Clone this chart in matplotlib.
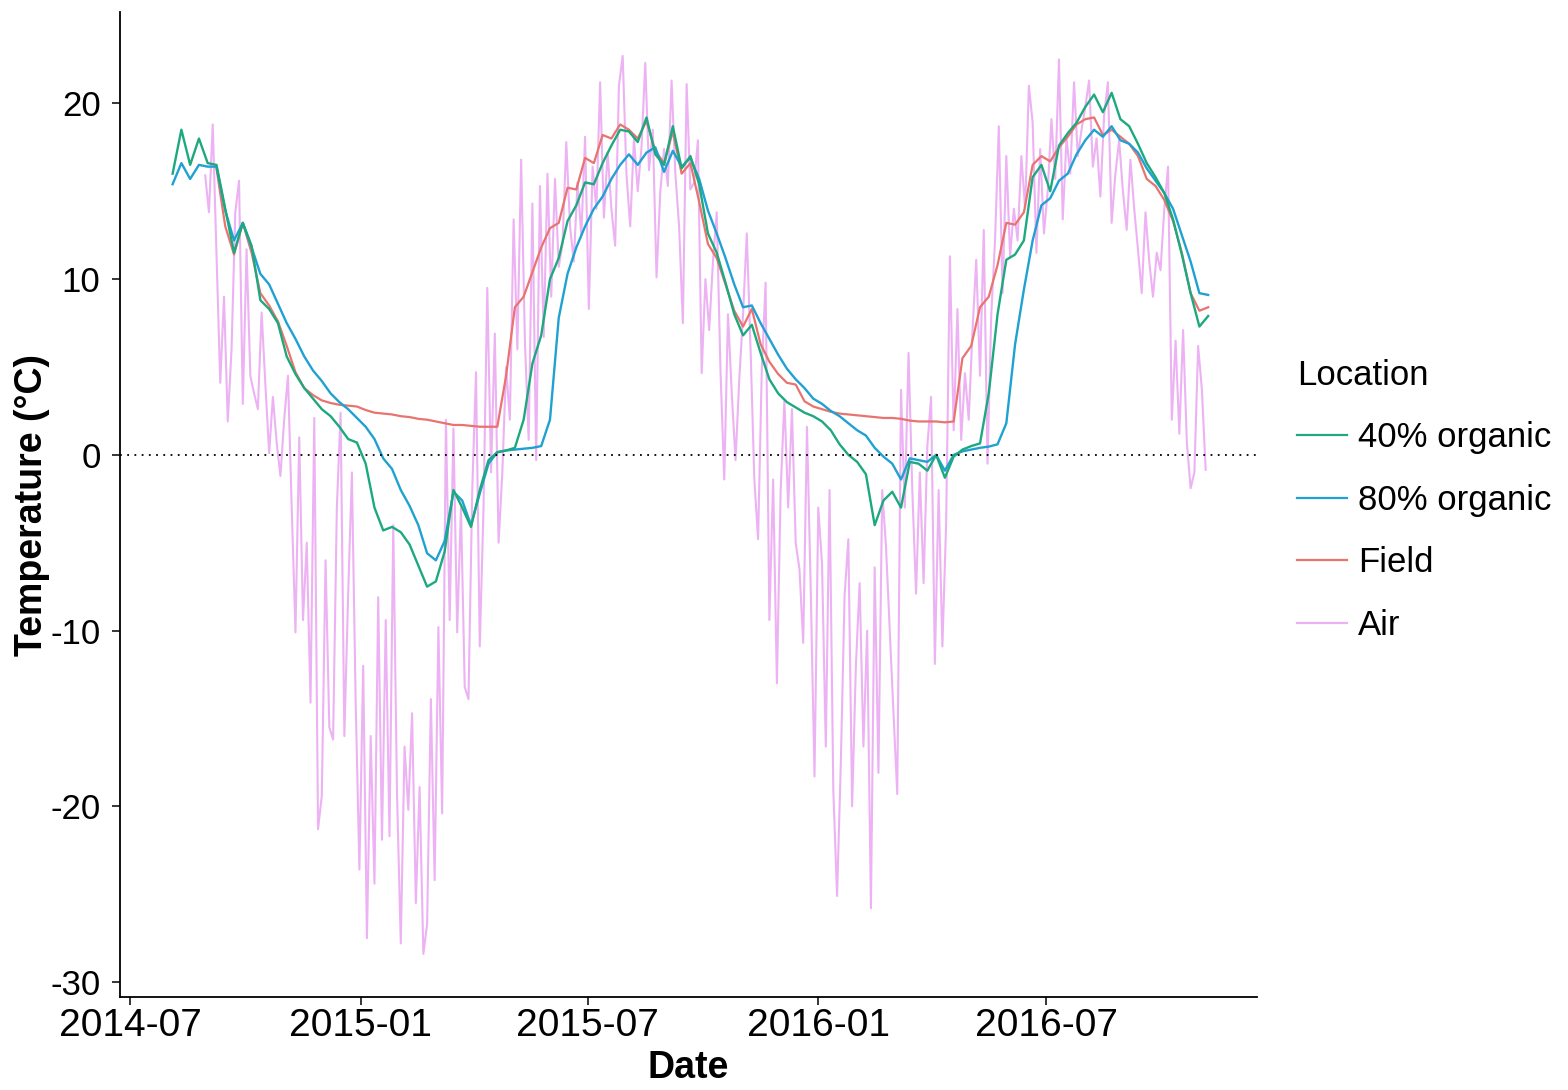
import matplotlib
matplotlib.use("Agg")
import matplotlib.pyplot as plt
import matplotlib.dates as mdates
import numpy as np
import pandas as pd

plt.rcParams["font.family"] = ["Liberation Sans", "DejaVu Sans"]
plt.rcParams["axes.unicode_minus"] = False

# weekly soil temperatures, starting 2014-08-04
SOIL_START = "2014-08-04"
ORGANIC_40 = [
    16.0, 18.5, 16.5, 18.0, 16.6, 16.5, 14.0, 11.5, 13.2, 11.9,
    8.8, 8.3, 7.5, 5.6, 4.6, 3.8, 3.2, 2.6, 2.2, 1.6,
    0.9, 0.7, -0.5, -3.0, -4.3, -4.1, -4.4, -5.1, -6.3, -7.5,
    -7.2, -5.5, -2.0, -3.0, -4.1, -2.0, -0.3, 0.15, 0.25, 0.4,
    2.0, 5.2, 6.8, 10.0, 11.2, 13.3, 14.2, 15.5, 15.4, 16.6,
    17.6, 18.5, 18.4, 17.8, 19.2, 17.1, 16.5, 18.7, 16.3, 17.0,
    15.4, 12.6, 11.5, 9.8, 8.0, 6.8, 7.4, 5.8, 4.3, 3.5,
    3.0, 2.7, 2.4, 2.2, 1.9, 1.4, 0.6, 0.0, -0.4, -1.1,
    -4.0, -2.6, -2.1, -3.0, -0.4, -0.5, -0.9, 0.0, -1.3, -0.1,
    0.3, 0.5, 0.65, 3.5, 8.0, 11.1, 11.4, 12.2, 15.8, 16.5,
    15.0, 17.6, 18.3, 18.9, 19.8, 20.5, 19.5, 20.6, 19.1, 18.7,
    17.7, 16.6, 15.8, 14.9, 13.4, 11.4, 9.2, 7.3, 7.9,
]
ORGANIC_80 = [
    15.4, 16.6, 15.7, 16.5, 16.4, 16.4, 13.9, 12.2, 13.2, 11.8,
    10.3, 9.7, 8.6, 7.5, 6.6, 5.6, 4.8, 4.2, 3.5, 3.0,
    2.6, 2.1, 1.6, 0.9, -0.2, -0.8, -2.0, -2.9, -4.0, -5.6,
    -6.0, -4.9, -2.1, -2.6, -4.0, -2.2, -0.5, 0.15, 0.25, 0.3,
    0.35, 0.4, 0.5, 2.0, 7.8, 10.3, 11.8, 13.0, 14.0, 14.7,
    15.7, 16.5, 17.1, 16.5, 17.2, 17.5, 16.1, 17.3, 16.4, 16.9,
    15.7, 13.9, 12.6, 11.2, 9.7, 8.4, 8.5, 7.5, 6.6, 5.7,
    4.9, 4.3, 3.8, 3.2, 2.9, 2.5, 2.2, 1.8, 1.4, 1.1,
    0.4, -0.1, -0.5, -1.4, -0.2, -0.3, -0.4, 0.0, -0.9, 0.0,
    0.2, 0.3, 0.4, 0.47, 0.6, 1.8, 6.3, 9.4, 12.2, 14.2,
    14.6, 15.6, 16.0, 17.1, 17.9, 18.5, 18.1, 18.7, 17.9, 17.7,
    17.2, 16.3, 15.6, 14.9, 14.0, 12.5, 11.0, 9.2, 9.1,
]
FIELD = [
    np.nan, np.nan, np.nan, np.nan, np.nan, 16.3, 13.0, 11.4, 13.2, 11.5,
    9.2, 8.5, 7.6, 6.2, 4.7, 3.8, 3.4, 3.1, 2.95, 2.85,
    2.8, 2.75, 2.55, 2.4, 2.35, 2.3, 2.2, 2.15, 2.05, 2.0,
    1.9, 1.8, 1.7, 1.7, 1.65, 1.6, 1.6, 1.6, 4.5, 8.4,
    9.0, 10.4, 11.8, 12.9, 13.2, 15.2, 15.1, 16.9, 16.6, 18.2,
    18.0, 18.8, 18.5, 18.0, 19.0, 17.3, 16.6, 18.4, 16.0, 16.6,
    14.4, 12.0, 11.2, 9.7, 8.2, 7.3, 8.3, 6.3, 5.3, 4.6,
    4.1, 4.0, 3.05, 2.75, 2.6, 2.45, 2.35, 2.3, 2.25, 2.2,
    2.15, 2.1, 2.1, 2.05, 1.95, 1.9, 1.9, 1.9, 1.85, 1.9,
    5.5, 6.2, 8.4, 9.0, 10.8, 13.2, 13.1, 13.8, 16.5, 17.0,
    16.7, 17.5, 18.1, 18.8, 19.1, 19.2, 18.2, 18.5, 18.1, 17.7,
    17.0, 15.7, 15.3, 14.5, 13.3, 11.5, 9.2, 8.2, 8.4,
]

# air temperature every third day, starting 2014-08-30
AIR_START = "2014-08-30"
AIR = [
    15.9, 13.8, 18.8, 11.5, 4.1, 9.0, 1.9, 6.0, 13.8, 15.6,
    2.9, 11.7, 4.5, 3.5, 2.6, 8.1, 4.0, 0.1, 3.3, 0.7,
    -1.2, 2.0, 4.5,
    -3.0, -10.1, 1.0, -9.4, -5.0, -14.1, 2.1, -21.3, -19.4, -6.0,
    -15.5, -16.2, -3.0, 2.4, -16.0,
    -8.0, -1.0, -14.0, -23.6, -12.0, -27.5, -16.0, -24.4, -8.1, -21.9,
    -9.4, -21.7, -4.0, -19.3, -27.8, -16.6, -20.2, -14.7, -25.5, -18.9,
    -28.4, -26.7, -13.9, -24.2, -9.8, -20.4,
    2.0, -9.4, 1.5, -10.1, -3.0, -13.2, -13.9, -2.0, 4.7, -10.9,
    -3.0, 9.5, -1.0, 6.9, -5.0, -1.0,
    5.0, 2.0, 13.4, 6.0, 16.8, 6.5, 0.85, 14.3, -0.3, 15.3,
    6.7, 16.0, 9.0, 15.7, 10.7, 12.0, 17.8, 13.0, 11.0, 15.5,
    12.5, 18.1, 8.3, 16.4, 14.0, 21.2, 13.5, 17.2,
    14.0, 11.9, 21.0, 22.7, 16.0, 13.0, 18.0, 15.0, 17.5, 22.3,
    16.2, 18.5, 10.1, 15.0, 17.4, 15.3, 21.3, 16.0, 13.0, 7.5,
    21.1, 15.1, 15.5, 17.9,
    4.65, 10.0, 7.1, 11.0, 13.8, 4.8, -1.4, 8.0, 3.5, -0.3,
    4.3, 8.0, 12.6, 6.0, -1.4, -4.8, 5.0, 9.8, -9.4, -1.4,
    -13.0, -2.0, 3.1, -3.0, 2.6, -5.0, -6.5, -10.7, 1.6,
    -7.7, -18.3, -3.0, -6.2, -16.6, -2.0, -19.1, -25.1, -17.5, -8.0,
    -4.8, -20.0, -12.0, -7.3, -16.6, -10.0, -25.8, -6.4, -18.1, -2.0,
    -5.2, -10.0, -14.7, -19.3, 3.7, -3.0, 5.8, -2.0, -7.9, -1.0,
    -7.3, 0.5, 3.3, -11.9, -2.0, -10.9, -3.9, 11.3, 1.4, 8.3,
    0.85, 4.65, 2.0, 7.0, 11.1, 4.5, 12.8, -0.5, 8.0, 12.2,
    18.7, 9.2, 17.0, 11.3, 14.0, 12.2, 17.0, 14.0, 21.0, 18.9,
    11.5, 17.4, 12.6, 15.0, 19.1, 15.7, 22.5, 13.4, 18.0, 16.0,
    21.2, 17.0, 18.5, 19.8, 21.3, 16.4, 18.0,
    14.7, 19.3, 21.2, 13.2, 16.0, 17.9, 15.0, 12.8, 16.8, 14.0,
    11.7, 9.2, 13.8, 11.0, 9.0, 11.5, 10.5, 14.0, 16.4, 2.0,
    6.5, 1.2, 7.1, 0.7, -1.9, -1.0, 6.2, 3.7, -0.85,
]

SERIES_LABELS = ["40% organic", "80% organic", "Field", "Air"]
COLORS = {
    "40% organic": "#1DA97F",
    "80% organic": "#1FA1D2",
    "Field": "#E8736F",
    "Air": "#EDB2F3",
}
TICK_DATES = ["2014-07-01", "2015-01-01", "2015-07-01", "2016-01-01", "2016-07-01"]


def main() -> None:
    soil_dates = pd.date_range(SOIL_START, periods=len(ORGANIC_40), freq="7D")
    air_dates = pd.date_range(AIR_START, periods=len(AIR), freq="3D")

    fig = plt.figure(figsize=(15.68, 10.90), dpi=100, facecolor="white")
    ax = fig.add_axes([0.0765, 0.0853, 0.7252, 0.9037])

    air_line, = ax.plot(air_dates, AIR, color=COLORS["Air"], lw=1.5, zorder=1)
    field_line, = ax.plot(soil_dates, FIELD, color=COLORS["Field"], lw=1.6, zorder=2)
    o80_line, = ax.plot(soil_dates, ORGANIC_80, color=COLORS["80% organic"], lw=1.7, zorder=3)
    o40_line, = ax.plot(soil_dates, ORGANIC_40, color=COLORS["40% organic"], lw=1.7, zorder=4)

    ax.axhline(0, color="black", lw=1.3, linestyle=(0, (1, 3)), zorder=5)

    ax.set_xlim(pd.Timestamp("2014-06-23"), pd.Timestamp("2016-12-16"))
    ax.set_ylim(-30.85, 25.2)
    ax.set_yticks([-30, -20, -10, 0, 10, 20])
    ax.set_xticks(pd.to_datetime(TICK_DATES))
    ax.xaxis.set_major_formatter(mdates.DateFormatter("%Y-%m"))

    for side in ("top", "right"):
        ax.spines[side].set_visible(False)
    for side in ("left", "bottom"):
        ax.spines[side].set_linewidth(1.3)
        ax.spines[side].set_color("black")
    ax.tick_params(axis="both", length=6, width=1.1, colors="black")
    ax.tick_params(axis="x", labelsize=28, pad=2)
    ax.tick_params(axis="y", labelsize=25, pad=8)

    ax.set_xlabel("Date", fontsize=27, weight="bold", labelpad=4)
    ax.set_ylabel("Temperature (°C)", fontsize=27, weight="bold", labelpad=0)

    leg = fig.legend(
        [o40_line, o80_line, field_line, air_line],
        SERIES_LABELS,
        title="Location",
        loc="center left",
        bbox_to_anchor=(0.807, 0.541),
        frameon=False,
        fontsize=25,
        title_fontsize=25,
        handlelength=1.45,
        handletextpad=0.32,
        labelspacing=0.85,
        alignment="left",
    )
    for line in leg.get_lines():
        line.set_linewidth(1.6)

    fig.savefig("out.png", dpi=100, facecolor="white")
    plt.close(fig)


if __name__ == "__main__":
    main()
